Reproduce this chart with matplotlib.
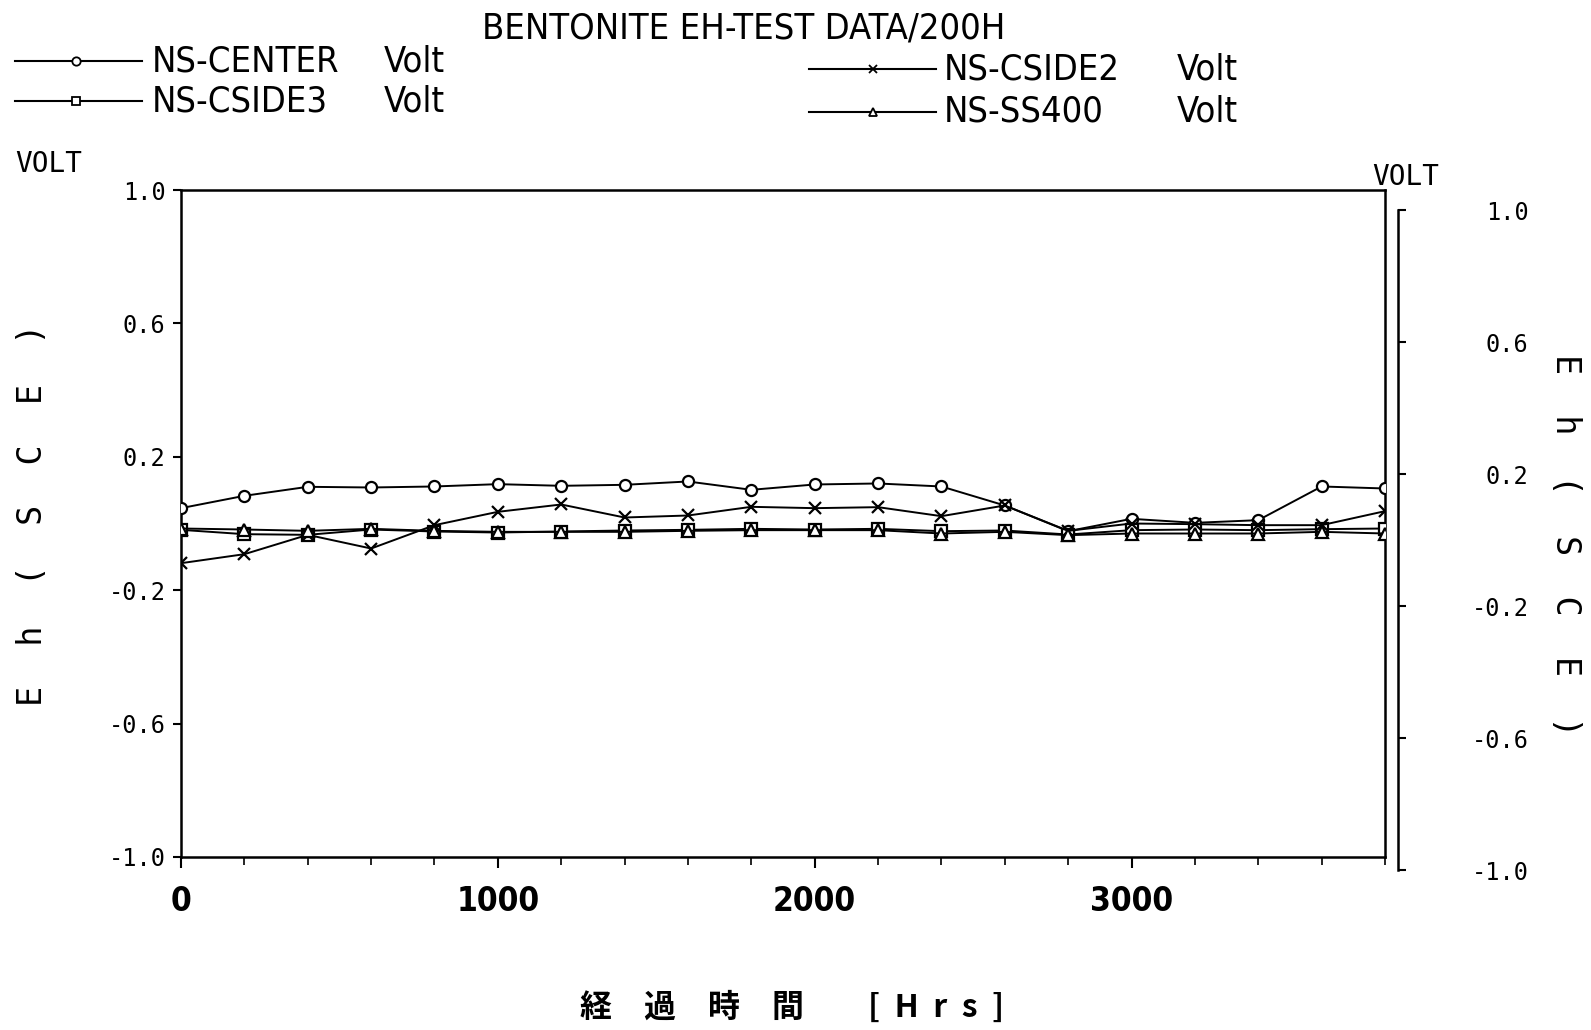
import matplotlib
matplotlib.use("Agg")
import matplotlib.pyplot as plt
from matplotlib.lines import Line2D

# ---------------- data ----------------
hours = [0, 200, 400, 600, 800, 1000, 1200, 1400, 1600, 1800,
         2000, 2200, 2400, 2600, 2800, 3000, 3200, 3400, 3600, 3800]
ns_center = [0.046, 0.083, 0.110, 0.108, 0.111, 0.118, 0.113, 0.116, 0.126, 0.101,
             0.117, 0.120, 0.111, 0.054, -0.023, 0.014, 0.002, 0.010, 0.111, 0.105]
ns_cside2 = [-0.119, -0.092, -0.034, -0.075, -0.005, 0.035, 0.057, 0.018, 0.024, 0.050,
             0.046, 0.049, 0.022, 0.054, -0.022, 0.000, -0.002, -0.005, -0.005, 0.037]
ns_cside3 = [-0.019, -0.032, -0.034, -0.018, -0.024, -0.027, -0.024, -0.021, -0.019, -0.016,
             -0.018, -0.016, -0.023, -0.021, -0.033, -0.020, -0.018, -0.020, -0.017, -0.015]
ns_ss400 = [-0.015, -0.018, -0.022, -0.016, -0.022, -0.025, -0.025, -0.025, -0.022, -0.020,
            -0.020, -0.020, -0.030, -0.025, -0.035, -0.030, -0.030, -0.030, -0.025, -0.030]

series_names = ["NS-CENTER", "NS-CSIDE3", "NS-CSIDE2", "NS-SS400"]
unit = "Volt"
title = "BENTONITE EH-TEST DATA/200H"
y_ticks = [-1.0, -0.6, -0.2, 0.2, 0.6, 1.0]
y_ticklabels = ["-1.0", "-0.6", "-0.2", "0.2", "0.6", "1.0"]
x_ticks = [0, 1000, 2000, 3000]
x_ticklabels = ["0", "1000", "2000", "3000"]
y_label = "E  h  (  S  C  E  )"
x_label = "経\u3000過\u3000時\u3000間\u3000\u3000[  H  r  s  ]"

# ---------------- layout helpers ----------------
W, H = 1591, 1030
fig = plt.figure(figsize=(W / 100, H / 100), dpi=100)
fig.patch.set_facecolor("white")

def fx(x):
    return x / W

def fy(y):
    return 1 - y / H

NARROW = dict(family=["DejaVu Sans"], fontstretch="condensed")
MONO = ["DejaVu Sans Mono"]

# main axes
ax = fig.add_axes([fx(181), fy(857), fx(1385) - fx(181), fy(190) - fy(857)])
ax.set_xlim(0, 3800)
ax.set_ylim(-1.0, 1.0)
for s in ax.spines.values():
    s.set_linewidth(1.8)
    s.set_color("black")

styles = [
    (ns_center, "o"),
    (ns_cside3, "s"),
    (ns_cside2, "x"),
    (ns_ss400, "^"),
]
for vals, mk in styles:
    ax.plot(hours, vals, color="black", lw=1.4, marker=mk, ms=8,
            mfc="white", mec="black", mew=1.6, zorder=3)

ax.set_yticks(y_ticks)
ax.set_yticklabels(y_ticklabels, family=MONO, fontsize=17)
ax.set_xticks(x_ticks)
ax.set_xticklabels(x_ticklabels, fontsize=24, fontweight="bold", **NARROW)
ax.set_xticks(hours, minor=True)
ax.tick_params(axis="y", direction="out", length=6, width=1.5, pad=5)
ax.tick_params(axis="x", which="major", direction="out", length=8, width=1.5, pad=12)
ax.tick_params(axis="x", which="minor", direction="out", length=6, width=1.2)

# right axis (offset slightly, like the scanned plot)
ax2 = fig.add_axes([fx(1300), fy(870), fx(1398) - fx(1300), fy(210) - fy(870)])
ax2.set_facecolor("none")
ax2.set_ylim(-1.0, 1.0)
for k in ("left", "top", "bottom"):
    ax2.spines[k].set_visible(False)
ax2.spines["right"].set_linewidth(1.8)
ax2.set_xticks([])
ax2.yaxis.tick_right()
ax2.set_yticks(y_ticks)
ax2.set_yticklabels(y_ticklabels, family=MONO, fontsize=17)
ax2.tick_params(axis="y", direction="out", length=6, width=1.5, pad=88)
for lab in ax2.get_yticklabels():
    lab.set_horizontalalignment("right")

# axis labels
fig.text(fx(33), fy(515), y_label, rotation=90, ha="center", va="center",
         family=MONO, fontsize=24)
fig.text(fx(1566), fy(545), y_label, rotation=-90, ha="center", va="center",
         family=MONO, fontsize=24)
fig.text(fx(15), fy(164), "VOLT", ha="left", va="center", family=MONO, fontsize=20)
fig.text(fx(1372), fy(177), "VOLT", ha="left", va="center", family=MONO, fontsize=20)
fig.text(fx(792), fy(1008), x_label, ha="center", va="center",
         family=["Noto Sans CJK JP", "DejaVu Sans"], fontsize=23, fontweight="bold")

# title
fig.text(fx(744), fy(28), title, ha="center", va="center", fontsize=26, **NARROW)

# legend (drawn in figure coordinates)
legend_rows = [
    (15, 142, 76, 61, 152, 384, 0),
    (15, 142, 76, 101, 152, 384, 1),
    (809, 936, 873, 69, 944, 1177, 2),
    (809, 936, 873, 112, 944, 1177, 3),
]
for x0, x1, xm, yy, xt, xv, idx in legend_rows:
    mk = styles[idx][1]
    fig.add_artist(Line2D([fx(x0), fx(x1)], [fy(yy), fy(yy)], transform=fig.transFigure,
                          color="black", lw=1.5))
    fig.add_artist(Line2D([fx(xm)], [fy(yy)], transform=fig.transFigure, marker=mk,
                          ms=6, mfc="white", mec="black", mew=1.3, color="black"))
    fig.text(fx(xt), fy(yy), series_names[idx], ha="left", va="center",
             fontsize=26, **NARROW)
    fig.text(fx(xv), fy(yy), unit, ha="left", va="center", fontsize=26, **NARROW)

fig.savefig("out.png", dpi=100)
